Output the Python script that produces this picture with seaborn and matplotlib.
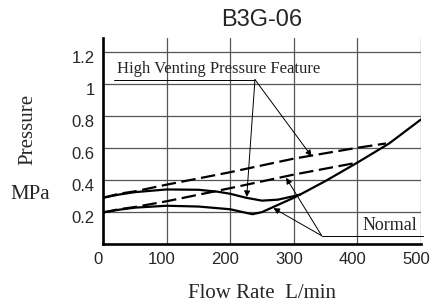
import matplotlib
matplotlib.use("Agg")
import matplotlib.pyplot as plt
import matplotlib.transforms as mtransforms
import seaborn as sns

# upper solid curve (high venting), joins the common branch at ~310 L/min
upper_flow = [0, 25, 50, 100, 150, 180, 200, 225, 250, 275, 300, 310]
upper_press = [0.29, 0.31, 0.325, 0.342, 0.34, 0.328, 0.315, 0.29, 0.272, 0.278, 0.3, 0.31]

# lower solid curve (normal) continuing up to 500
lower_flow = [0, 25, 50, 100, 150, 200, 220, 235, 250, 275, 300, 310, 350, 400, 450, 500]
lower_press = [0.198, 0.215, 0.228, 0.24, 0.235, 0.218, 0.2, 0.187, 0.2, 0.245, 0.29, 0.31,
               0.395, 0.51, 0.63, 0.78]

# dashed curves
dash_hi_flow = [0, 25, 50, 100, 200, 300, 400, 445]
dash_hi_press = [0.29, 0.315, 0.33, 0.372, 0.45, 0.535, 0.603, 0.63]
dash_lo_flow = [0, 25, 50, 100, 200, 300, 400]
dash_lo_press = [0.198, 0.218, 0.232, 0.268, 0.35, 0.435, 0.51]

x_ticks = [0, 100, 200, 300, 400, 500]
y_ticks = [0.2, 0.4, 0.6, 0.8, 1.0, 1.2]
y_tick_labels = ["0.2", "0.4", "0.6", "0.8", "1", "1.2"]

sns.set_style("white")
plt.rcParams["font.family"] = ["Liberation Sans", "DejaVu Sans"]

fig = plt.figure(figsize=(4.44, 3.07), dpi=100)
ax = fig.add_axes([0.232, 0.205, 0.716, 0.671])

lw = 1.6
sns.lineplot(x=upper_flow, y=upper_press, ax=ax, color="black", lw=lw, sort=False)
sns.lineplot(x=lower_flow, y=lower_press, ax=ax, color="black", lw=lw, sort=False)
sns.lineplot(x=dash_hi_flow, y=dash_hi_press, ax=ax, color="black", lw=lw, sort=False,
             linestyle=(0, (6.5, 2.5)))
sns.lineplot(x=dash_lo_flow, y=dash_lo_press, ax=ax, color="black", lw=lw, sort=False,
             linestyle=(0, (6.5, 2.5)))

ax.set_xlim(0, 500)
ax.set_ylim(0, 1.29)
ax.set_xticks(x_ticks)
ax.set_yticks(y_ticks)
ax.set_yticklabels(y_tick_labels)
ax.grid(True, color="#555555", lw=0.9)
ax.set_axisbelow(True)
ax.tick_params(length=0, labelsize=12, pad=6)
for s in ["top", "right"]:
    ax.spines[s].set_visible(False)
for s in ["left", "bottom"]:
    ax.spines[s].set_linewidth(1.9)
    ax.spines[s].set_color("black")

# tick labels sit a little off their grid lines in the original
dx = mtransforms.ScaledTranslation(-5 / 100, 0, fig.dpi_scale_trans)
dy = mtransforms.ScaledTranslation(0, -5 / 100, fig.dpi_scale_trans)
for lab in ax.get_xticklabels():
    lab.set_transform(lab.get_transform() + dx)
for lab in ax.get_yticklabels():
    lab.set_transform(lab.get_transform() + dy)

ax.set_title("B3G-06", fontsize=17, pad=9)

serif = ["Liberation Serif", "DejaVu Serif"]
fig.text(0.063, 0.58, "Pressure", rotation=90, ha="center", va="center",
         fontsize=15, family=serif)
fig.text(0.068, 0.368, "MPa", ha="center", va="center", fontsize=15, family=serif)
fig.text(0.59, 0.045, "Flow Rate  L/min", ha="center", va="center", fontsize=15,
         family=serif)

arrow = dict(arrowstyle="-|>", color="black", lw=0.7, mutation_scale=9,
             shrinkA=0, shrinkB=0)

# High Venting Pressure Feature label
ax.text(22, 1.045, "High Venting Pressure Feature", fontsize=12, family=serif,
        ha="left", va="bottom")
ax.plot([17, 239], [1.03, 1.03], color="black", lw=0.7)
ax.annotate("", xy=(226, 0.295), xytext=(239, 1.03), arrowprops=arrow)
ax.annotate("", xy=(328, 0.55), xytext=(239, 1.03), arrowprops=arrow)

# Normal label
ax.text(495, 0.065, "Normal", fontsize=13, family=serif, ha="right", va="bottom")
ax.plot([344, 503], [0.052, 0.052], color="black", lw=0.7, clip_on=False)
ax.annotate("", xy=(268, 0.225), xytext=(344, 0.052), arrowprops=arrow)
ax.annotate("", xy=(288, 0.415), xytext=(344, 0.052), arrowprops=arrow)

fig.savefig("out.png", dpi=100)
